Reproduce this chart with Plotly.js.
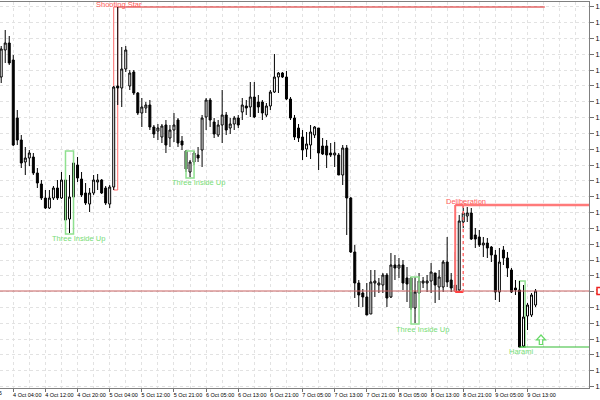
<!DOCTYPE html>
<html>
<head>
<meta charset="utf-8">
<script src="https://cdn.plot.ly/plotly-3.0.1.min.js"></script>
<style>html,body{margin:0;padding:0;background:#fff;}#chart{width:600px;height:400px;}</style>
</head>
<body>
<div id="chart"></div>
<script>
// ---- DATA (hourly candles) ----
const openP = [
1.1323,1.1350,1.1357,1.1340,1.1282,1.1260,1.1238,1.1242,1.1243,1.1227,
1.1216,1.1202,1.1192,1.1202,1.1212,1.1202,1.1220,1.1181,1.1203,1.1235,
1.1221,1.1207,1.1196,1.1207,1.1218,1.1220,1.1212,1.1196,1.1213,1.1314,
1.1312,1.1331,1.1314,1.1328,1.1307,1.1287,1.1292,1.1295,1.1273,1.1269,
1.1263,1.1275,1.1262,1.1270,1.1280,1.1259,1.1249,1.1228,1.1238,1.1245,
1.1250,1.1283,1.1300,1.1278,1.1265,1.1275,1.1285,1.1272,1.1276,1.1282,
1.1288,1.1294,1.1293,1.1303,1.1298,1.1298,1.1285,1.1294,1.1308,1.1323,
1.1327,1.1323,1.1301,1.1282,1.1272,1.1263,1.1251,1.1255,1.1265,1.1272,
1.1254,1.1254,1.1247,1.1245,1.1245,1.1225,1.1252,1.1202,1.1148,1.1117,
1.1107,1.1103,1.1086,1.1117,1.1115,1.1115,1.1125,1.1103,1.1135,1.1132,
1.1135,1.1122,1.1122,1.1092,1.1107,1.1117,1.1117,1.1119,1.1127,1.1113,
1.1113,1.1138,1.1120,1.1115,1.1110,1.1178,1.1184,1.1187,1.1165,1.1163,
1.1155,1.1157,1.1153,1.1145,1.1108,1.1150,1.1142,1.1130,1.1112,1.1110,
1.1054,1.1084,1.1085,1.1095];
const highP = [
1.1354,1.1370,1.1364,1.1345,1.1290,1.1265,1.1253,1.1250,1.1247,1.1232,
1.1220,1.1210,1.1210,1.1214,1.1220,1.1228,1.1222,1.1225,1.1249,1.1243,
1.1228,1.1217,1.1212,1.1225,1.1226,1.1221,1.1214,1.1215,1.1314,1.1393,
1.1353,1.1354,1.1330,1.1330,1.1308,1.1302,1.1298,1.1300,1.1275,1.1276,
1.1276,1.1280,1.1275,1.1287,1.1282,1.1264,1.1250,1.1240,1.1249,1.1253,
1.1285,1.1302,1.1302,1.1282,1.1280,1.1310,1.1288,1.1282,1.1284,1.1285,
1.1302,1.1300,1.1318,1.1318,1.1305,1.1300,1.1297,1.1310,1.1346,1.1328,
1.1328,1.1329,1.1303,1.1285,1.1276,1.1270,1.1268,1.1275,1.1274,1.1272,
1.1262,1.1260,1.1257,1.1258,1.1247,1.1255,1.1255,1.1203,1.1155,1.1120,
1.1111,1.1117,1.1130,1.1130,1.1122,1.1127,1.1127,1.1147,1.1145,1.1142,
1.1140,1.1133,1.1123,1.1123,1.1127,1.1123,1.1125,1.1137,1.1127,1.1130,
1.1140,1.1163,1.1127,1.1148,1.1185,1.1195,1.1193,1.1192,1.1172,1.1170,
1.1163,1.1162,1.1154,1.1150,1.1152,1.1154,1.1148,1.1132,1.1120,1.1119,
1.1115,1.1097,1.1107,1.1111];
const lowP = [
1.1317,1.1337,1.1335,1.1254,1.1255,1.1232,1.1225,1.1234,1.1225,1.1212,
1.1200,1.1191,1.1191,1.1200,1.1200,1.1201,1.1178,1.1167,1.1200,1.1218,
1.1203,1.1195,1.1188,1.1205,1.1210,1.1206,1.1195,1.1192,1.1210,1.1295,
1.1293,1.1328,1.1310,1.1305,1.1285,1.1273,1.1287,1.1270,1.1262,1.1260,
1.1257,1.1247,1.1253,1.1258,1.1253,1.1250,1.1228,1.1223,1.1235,1.1238,
1.1233,1.1270,1.1273,1.1262,1.1263,1.1257,1.1265,1.1266,1.1270,1.1272,
1.1280,1.1285,1.1283,1.1282,1.1287,1.1280,1.1283,1.1290,1.1307,1.1307,
1.1322,1.1300,1.1280,1.1260,1.1258,1.1240,1.1243,1.1241,1.1262,1.1230,
1.1245,1.1232,1.1243,1.1233,1.1225,1.1215,1.1165,1.1147,1.1102,1.1093,
1.1093,1.1085,1.1086,1.1103,1.1107,1.1107,1.1093,1.1102,1.1120,1.1122,
1.1110,1.1098,1.1090,1.1077,1.1106,1.1112,1.1108,1.1107,1.1097,1.1100,
1.1108,1.1113,1.1108,1.1108,1.1108,1.1172,1.1178,1.1160,1.1152,1.1153,
1.1143,1.1142,1.1138,1.1100,1.1098,1.1135,1.1123,1.1107,1.1105,1.1053,
1.1053,1.1070,1.1083,1.1093];
const closeP = [
1.1351,1.1357,1.1337,1.1255,1.1260,1.1237,1.1242,1.1247,1.1227,1.1217,
1.1202,1.1192,1.1202,1.1212,1.1202,1.1220,1.1180,1.1203,1.1237,1.1222,
1.1205,1.1197,1.1207,1.1220,1.1220,1.1207,1.1197,1.1213,1.1313,1.1312,
1.1331,1.1350,1.1327,1.1307,1.1287,1.1293,1.1295,1.1273,1.1266,1.1272,
1.1274,1.1255,1.1270,1.1275,1.1257,1.1255,1.1231,1.1238,1.1247,1.1242,
1.1282,1.1300,1.1280,1.1266,1.1275,1.1285,1.1270,1.1276,1.1282,1.1275,
1.1295,1.1292,1.1303,1.1283,1.1293,1.1287,1.1294,1.1308,1.1323,1.1327,
1.1323,1.1301,1.1282,1.1263,1.1262,1.1250,1.1256,1.1268,1.1273,1.1247,
1.1246,1.1245,1.1245,1.1247,1.1225,1.1252,1.1202,1.1148,1.1117,1.1105,
1.1103,1.1085,1.1118,1.1119,1.1117,1.1125,1.1102,1.1135,1.1132,1.1135,
1.1117,1.1116,1.1092,1.1108,1.1119,1.1119,1.1119,1.1128,1.1115,1.1123,
1.1138,1.1118,1.1112,1.1109,1.1179,1.1187,1.1187,1.1161,1.1161,1.1155,
1.1157,1.1152,1.1145,1.1108,1.1138,1.1142,1.1132,1.1108,1.1110,1.1053,
1.1083,1.1095,1.1105,1.1109];

const tickBars = [3,11,19,27,35,43,51,59,67,75,83,91,99,107,115,123,131];
const tickLabels = ["4 Oct 04:00","4 Oct 12:00","4 Oct 20:00","5 Oct 04:00","5 Oct 12:00","5 Oct 21:00",
  "6 Oct 05:00","6 Oct 13:00","6 Oct 21:00","7 Oct 05:00","7 Oct 13:00","7 Oct 21:00",
  "8 Oct 05:00","8 Oct 13:00","8 Oct 21:00","9 Oct 05:00","9 Oct 13:00"];

// pattern markers: [startBar, endBar, lowPrice, highPrice]
const shootingStar = [28, 29, 1.1210, 1.1393];
const threeInsideUp = [[16, 18, 1.1166, 1.1249],[46, 48, 1.1222, 1.1249],[102, 104, 1.1076, 1.1123]];
const deliberation = [113, 115, 1.1108, 1.1195];
const harami = [129, 130.4, 1.1053, 1.1119];
const bidPrice = 1.1109;

const bars = openP.map((_, k) => k);
const XR = [-0.3, 146.3];

// ---- helpers for pixel-ish positions ----
const PW = 589, PH = 386;
const px = v => v / PW;
const py = v => (388 - v) / PH;

const RED = '#ff5a5a', GREEN = '#77dd77';

const shapes = [];
// Shooting star
shapes.push({type:'rect', layer:'between', xref:'x', yref:'y', x0:shootingStar[0], x1:shootingStar[1], y0:shootingStar[2], y1:shootingStar[3], line:{color:'#ff6a6a', width:1}});
shapes.push({type:'line', layer:'between', xref:'x', yref:'y', x0:shootingStar[1], x1:135.3, y0:shootingStar[3], y1:shootingStar[3], line:{color:'#d81a1a', width:1}});
// Three inside up boxes
threeInsideUp.forEach(b => shapes.push({type:'rect', layer:'above', xref:'x', yref:'y', x0:b[0], x1:b[1], y0:b[2], y1:b[3], line:{color:'#8fe08f', width:1.5}}));
// Deliberation
const d = deliberation;
shapes.push({type:'line', layer:'above', xref:'x', yref:'y', x0:d[0], x1:d[0], y0:d[2], y1:d[3], line:{color:'#ff7070', width:2}});
shapes.push({type:'line', layer:'above', xref:'x', yref:'y', x0:d[0], x1:d[1], y0:d[2], y1:d[2], line:{color:'#ff4040', width:2}});
shapes.push({type:'line', layer:'above', xref:'x', yref:'y', x0:d[1], x1:d[1], y0:d[2], y1:d[3], line:{color:'#ff7070', width:1.5, dash:'dot'}});
shapes.push({type:'line', layer:'above', xref:'x', yref:'y', x0:d[0], x1:d[1], y0:d[3], y1:d[3], line:{color:'#ff7070', width:2.5}});
shapes.push({type:'line', layer:'above', xref:'x', yref:'y', x0:d[1], x1:XR[1], y0:d[3], y1:d[3], line:{color:'#ff7a7a', width:2.5}});
// Harami
const h = harami;
shapes.push({type:'rect', layer:'between', xref:'x', yref:'y', x0:h[0], x1:h[1], y0:h[2], y1:h[3], line:{color:'#8fe08f', width:1.5}});
shapes.push({type:'line', layer:'above', xref:'x', yref:'y', x0:h[0], x1:XR[1], y0:h[2], y1:h[2], line:{color:'#33bb33', width:1.2}});
// bid marker at right edge
shapes.push({type:'rect', xref:'paper', yref:'paper', x0:px(597), x1:px(601), y0:py(294.5), y1:py(287.5), line:{color:'#ee2222', width:1.5}, fillcolor:'#ffffff'});
// Up arrow
const arrow = [[541,335],[536.5,339.8],[539.3,339.8],[539.3,344.5],[542.7,344.5],[542.7,339.8],[545.5,339.8]];
shapes.push({type:'path', xref:'paper', yref:'paper',
  path: 'M' + arrow.map(p => px(p[0]).toFixed(5) + ',' + py(p[1]).toFixed(5)).join('L') + 'Z',
  line:{color:'#66d966', width:1.2}, fillcolor:'rgba(0,0,0,0)'});

const annFont = {family:'Liberation Sans, Arial, sans-serif', size:7.5};
const annotations = [
  {x:29.3, y:1.1396, text:'Shooting Star', color:RED},
  {x:19.2, y:1.1162, text:'Three Inside Up', color:GREEN},
  {x:49.1, y:1.1218, text:'Three Inside Up', color:GREEN},
  {x:104.8, y:1.1071, text:'Three Inside Up', color:GREEN},
  {x:115.7, y:1.1199, text:'Deliberation', color:RED},
  {x:129.5, y:1.1049, text:'Harami', color:GREEN}
].map(a => ({x:a.x, y:a.y, xref:'x', yref:'y', text:a.text, showarrow:false, xanchor:'center', yanchor:'middle',
  font:Object.assign({}, annFont, {color:a.color})}));
annotations.push({xref:'paper', yref:'paper', x:px(4), y:py(393), xanchor:'right', yanchor:'middle', showarrow:false,
  text:'2 Oct 2015', font:{family:'Liberation Sans, Arial, sans-serif', size:5.5, color:'#000'}});

const bidTrace = {
  type:'scatter', mode:'lines', x:XR, y:[bidPrice, bidPrice],
  line:{color:'#c86060', width:1}, showlegend:false, hoverinfo:'skip'
};

const trace = {
  type:'candlestick', x:bars, open:openP, high:highP, low:lowP, close:closeP,
  increasing:{line:{color:'#000000', width:1}, fillcolor:'#ffffff'},
  decreasing:{line:{color:'#000000', width:1}, fillcolor:'#000000'},
  whiskerwidth:0, showlegend:false, hoverinfo:'skip'
};

const layout = {
  width:600, height:400,
  margin:{l:0, r:11, t:2, b:12, pad:0},
  paper_bgcolor:'#ffffff', plot_bgcolor:'#ffffff',
  showlegend:false,
  xaxis:{
    range:XR, rangeslider:{visible:false}, automargin:false,
    tickmode:'array', tickvals:tickBars, ticktext:tickLabels,
    ticks:'outside', ticklen:3, tickcolor:'#707070', tickwidth:1,
    tickfont:{family:'Liberation Sans, Arial, sans-serif', size:5.5, color:'#000'},
    ticklabelshift:14, ticklabelstandoff:-2,
    showgrid:true, gridcolor:'#e2e2e2', griddash:'dot', gridwidth:1,
    minor:{tick0:3, dtick:4, showgrid:true, gridcolor:'#e2e2e2', griddash:'dot', ticklen:0},
    showline:true, linecolor:'#808080', linewidth:1, mirror:true, zeroline:false
  },
  yaxis:{
    range:[1.1012, 1.1398], side:'right', automargin:false,
    tick0:1.13773, dtick:0.001582, tickformat:'.5f',
    ticks:'outside', ticklen:4, tickcolor:'#707070',
    tickfont:{family:'Liberation Sans, Arial, sans-serif', size:7, color:'#000'},
    showgrid:true, gridcolor:'#e2e2e2', griddash:'dot', gridwidth:1,
    showline:true, linecolor:'#808080', linewidth:1, mirror:false, zeroline:false
  },
  shapes:shapes, annotations:annotations
};

Plotly.newPlot('chart', [bidTrace, trace], layout, {staticPlot:true, displayModeBar:false});
</script>
</body>
</html>
